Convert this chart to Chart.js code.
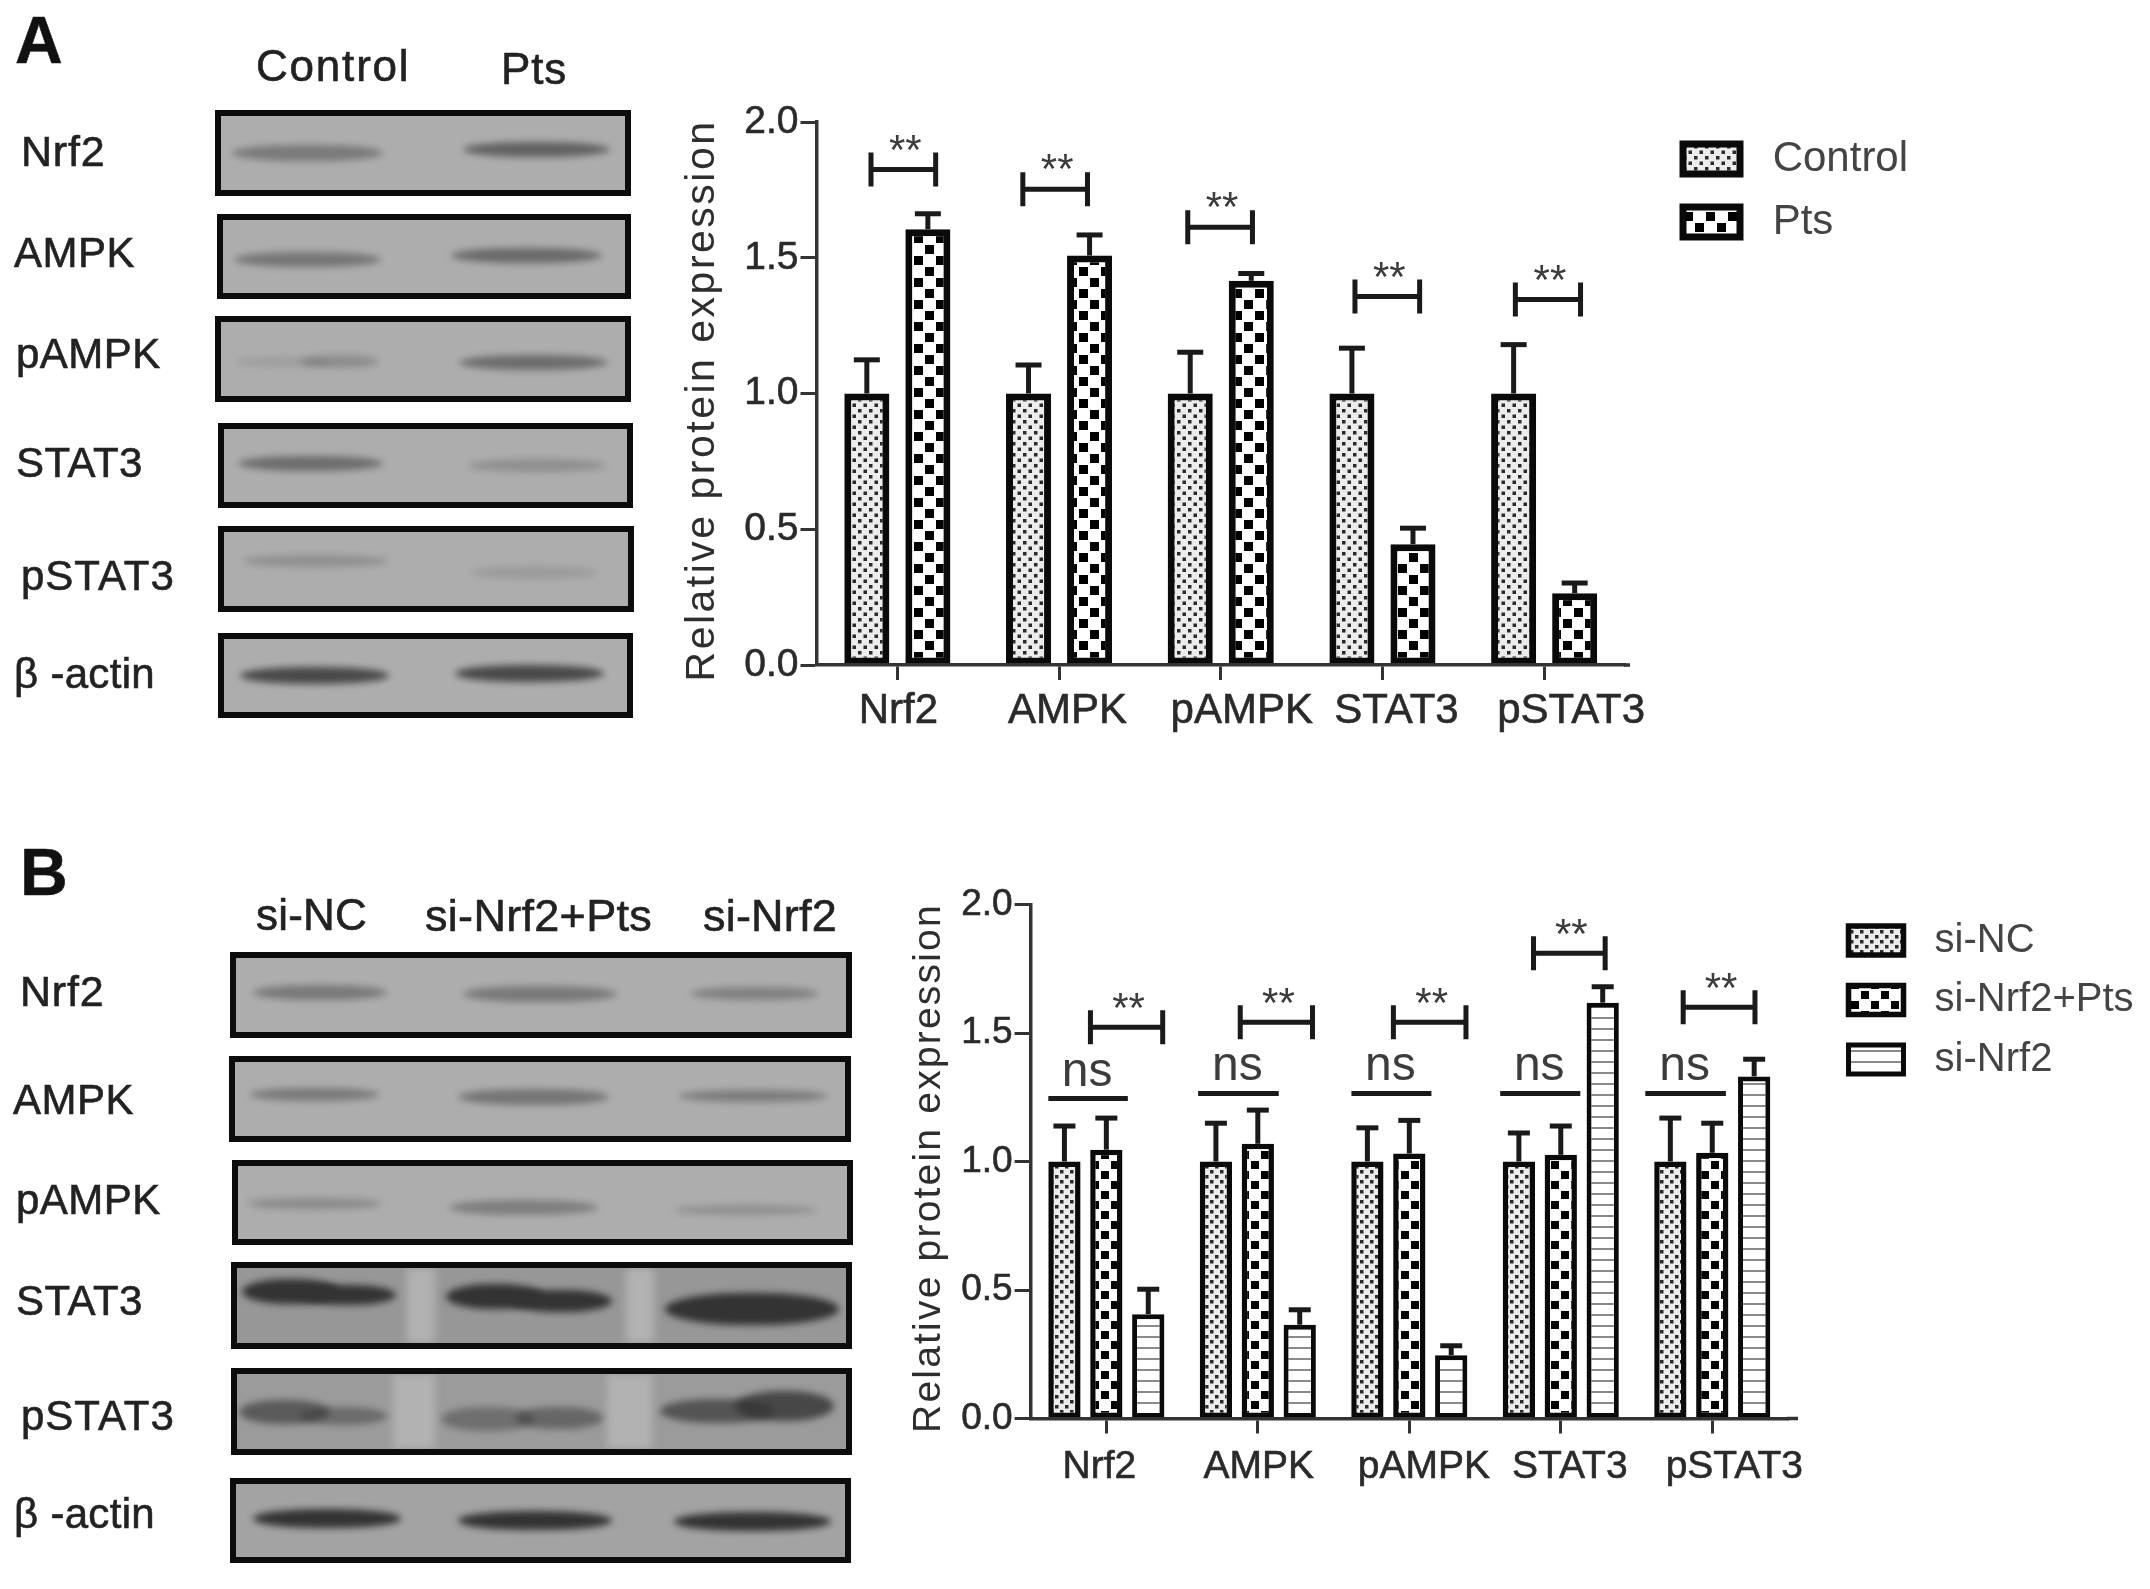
<!DOCTYPE html>
<html>
<head>
<meta charset="utf-8">
<title>Relative protein expression</title>
<script src="https://cdn.jsdelivr.net/npm/chart.js@4/dist/chart.umd.min.js"></script>
<style>
html, body { margin: 0; background: #fff; }
#page { position: relative; width: 2150px; height: 1589px; overflow: hidden; font-family: "Liberation Sans", Arial, sans-serif; }
#page canvas { position: absolute; filter: blur(0.6px); }
.txt { position: absolute; white-space: nowrap; color: #222; line-height: 1; transform: translateY(-50%); filter: blur(0.5px); -webkit-text-stroke: 0.6px #222; letter-spacing: 0.4px; }
.blot { position: absolute; box-sizing: border-box; border: 6px solid #0c0c0c; background: #adadad; overflow: hidden; filter: blur(0.7px); }
.band { position: absolute; border-radius: 45% / 50%; background: #333; filter: blur(3.5px); }
.gap { position: absolute; top: 0; bottom: 0; background: #b2b2b2; filter: blur(4px); }
</style>
</head>
<body>
<div id="page">
  <canvas id="chart-a" width="1490" height="680" style="left:660px;top:90px"></canvas>
  <canvas id="chart-b" width="1260" height="620" style="left:890px;top:880px"></canvas>
</div>
<script>
// Panel A values
var categories = ["Nrf2", "AMPK", "pAMPK", "STAT3", "pSTAT3"];
var controlA = [1, 1, 1, 1, 1];
var controlTopA = [1.124, 1.105, 1.152, 1.167, 1.18];
var ptsA = [1.605, 1.508, 1.415, 0.445, 0.264];
var ptsTopA = [1.662, 1.584, 1.442, 0.504, 0.302];

// Panel B values
var siNC = [1, 1, 1, 1, 1];
var siNCTop = [1.138, 1.149, 1.131, 1.111, 1.169];
var siNrf2Pts = [1.046, 1.069, 1.031, 1.026, 1.034];
var siNrf2PtsTop = [1.169, 1.2, 1.16, 1.138, 1.149];
var siNrf2 = [0.406, 0.365, 0.246, 1.618, 1.331];
var siNrf2Top = [0.503, 0.423, 0.283, 1.68, 1.398];

// Significance brackets: value level, then ends in category widths from the tick
var starLevelA = [1.825, 1.752, 1.612, 1.357, 1.346];
var starFromA = [-0.163, -0.224, -0.204, -0.17, -0.178];
var starToA = [0.237, 0.176, 0.196, 0.23, 0.225];
var starLevelB = [1.522, 1.542, 1.542, 1.81, 1.6];
var starFromB = [-0.105, -0.116, -0.105, -0.18, -0.192];
var starToB = [0.372, 0.361, 0.374, 0.293, 0.282];
var nsLevelB = [1.245, 1.265, 1.265, 1.265, 1.265];
var nsFromB = [-0.383, -0.394, -0.382, -0.4, -0.442];
var nsToB = [0.142, 0.138, 0.146, 0.129, 0.09];

var INK = "#1a1a1a";

function makeTile(size, draw) {
    var c = document.createElement("canvas");
    c.width = size;
    c.height = size;
    draw(c.getContext("2d"));
    return c.getContext("2d").createPattern(c, "repeat");
}

function finePattern(cell) {
    return makeTile(cell * 2, function(t) {
        t.fillStyle = "#ececec";
        t.fillRect(0, 0, cell * 2, cell * 2);
        t.fillStyle = "#2a2a2a";
        t.fillRect(0, 0, 3.5, 3.5);
        t.fillRect(cell, 0, 3.5, 3.5);
        t.fillRect(cell / 2, cell / 2, 3.5, 3.5);
        t.fillRect(cell * 1.5, cell / 2, 3.5, 3.5);
        t.fillRect(0, cell, 3.5, 3.5);
        t.fillRect(cell, cell, 3.5, 3.5);
        t.fillRect(cell / 2, cell * 1.5, 3.5, 3.5);
        t.fillRect(cell * 1.5, cell * 1.5, 3.5, 3.5);
    });
}

function checkPattern(cell) {
    return makeTile(cell * 2, function(t) {
        t.fillStyle = "#fff";
        t.fillRect(0, 0, cell * 2, cell * 2);
        t.fillStyle = "#000";
        t.fillRect(1, 1, cell - 2, cell - 2);
        t.fillRect(cell + 1, cell + 1, cell - 2, cell - 2);
    });
}

var linePattern = makeTile(11, function(t) {
    t.fillStyle = "#fff";
    t.fillRect(0, 0, 11, 11);
    t.fillStyle = "#8a8a8a";
    t.fillRect(0, 5, 11, 2);
});

// Stems and caps above the bars
var errorBars = {
    id: "errorBars",
    afterDatasetsDraw: function(chart) {
        var ctx = chart.ctx;
        var y = chart.scales.y;
        var capHalf = chart.options.plugins.marks.capHalf;
        ctx.save();
        ctx.strokeStyle = INK;
        chart.data.datasets.forEach(function(ds, d) {
            chart.getDatasetMeta(d).data.forEach(function(bar, i) {
                var top = y.getPixelForValue(ds.errTop[i]);
                ctx.lineWidth = 5;
                ctx.beginPath();
                ctx.moveTo(bar.x, y.getPixelForValue(ds.data[i]));
                ctx.lineTo(bar.x, top);
                ctx.stroke();
                ctx.beginPath();
                ctx.moveTo(bar.x - capHalf, top);
                ctx.lineTo(bar.x + capHalf, top);
                ctx.stroke();
            });
        });
        ctx.restore();
    }
};

// ** brackets and ns lines
var sigMarks = {
    id: "marks",
    afterDraw: function(chart, args, opts) {
        var ctx = chart.ctx;
        var x = chart.scales.x;
        var y = chart.scales.y;
        var step = x.getPixelForValue(1) - x.getPixelForValue(0);
        ctx.save();
        // the x axis runs on a little past the last category
        ctx.strokeStyle = "#333";
        ctx.lineWidth = 3.5;
        ctx.beginPath();
        ctx.moveTo(x.right - 1, y.bottom);
        ctx.lineTo(x.right + opts.axisRun, y.bottom);
        ctx.stroke();
        ctx.strokeStyle = INK;
        ctx.fillStyle = "#3c3c3c";
        ctx.textAlign = "center";
        categories.forEach(function(c, i) {
            var mid = x.getPixelForValue(i);
            var x0 = mid + opts.starFrom[i] * step;
            var x1 = mid + opts.starTo[i] * step;
            var yy = y.getPixelForValue(opts.starLevel[i]);
            ctx.lineWidth = 5;
            ctx.beginPath();
            ctx.moveTo(x0, yy - 17);
            ctx.lineTo(x0, yy + 17);
            ctx.moveTo(x0, yy);
            ctx.lineTo(x1, yy);
            ctx.moveTo(x1, yy - 17);
            ctx.lineTo(x1, yy + 17);
            ctx.stroke();
            ctx.font = "42px 'Liberation Sans'";
            ctx.fillText("**", (x0 + x1) / 2 + 2, yy - opts.starLift);
            if (opts.nsLevel) {
                var n0 = mid + opts.nsFrom[i] * step;
                var n1 = mid + opts.nsTo[i] * step;
                var ny = y.getPixelForValue(opts.nsLevel[i]);
                ctx.beginPath();
                ctx.moveTo(n0, ny);
                ctx.lineTo(n1, ny);
                ctx.stroke();
                ctx.font = "48px 'Liberation Sans'";
                ctx.fillText("ns", (n0 + n1) / 2 - 1, ny - 13);
            }
        });
        ctx.restore();
    }
};

// Legend sits off to the right, x labels are nudged off their ticks like the original,
// and only the y title gets the wide letter spacing
var placement = {
    id: "placement",
    afterLayout: function(chart) {
        var p = chart.options.plugins.marks;
        var lg = chart.legend;
        lg.left = p.legendLeft;
        lg.top = p.legendTop;
        lg.right = lg.left + 480;
        lg.bottom = lg.top + 260;
        chart.scales.x.getLabelItems(chart.chartArea).forEach(function(item, i) {
            item.options.translation[0] += p.labelShift[i];
        });
        var yScale = chart.scales.y;
        var drawTitle = yScale.drawTitle;
        yScale.drawTitle = function() {
            chart.ctx.letterSpacing = p.titleSpacing;
            drawTitle.call(yScale);
            chart.ctx.letterSpacing = "0px";
        };
    }
};

function makeChart(id, datasets, o) {
    return new Chart(document.getElementById(id), {
        type: "bar",
        data: { labels: categories, datasets: datasets },
        plugins: [errorBars, sigMarks, placement],
        options: {
            responsive: false,
            animation: false,
            devicePixelRatio: 1,
            layout: { padding: { top: o.top, right: o.right, left: 0, bottom: 0 } },
            datasets: { bar: { categoryPercentage: o.catPct, barPercentage: o.barPct } },
            plugins: {
                tooltip: { enabled: false },
                legend: {
                    position: "chartArea",
                    align: "start",
                    labels: {
                        boxWidth: o.boxW,
                        boxHeight: o.boxH,
                        padding: o.legendGap,
                        color: "#444",
                        font: { family: "Liberation Sans", size: o.legendFont }
                    }
                },
                marks: o.marks
            },
            scales: {
                x: {
                    afterFit: function(s) { s.height = o.xHeight; },
                    grid: { offset: false, drawOnChartArea: false, tickLength: 15, tickWidth: 3, tickColor: "#333" },
                    border: { width: 3.5, color: "#333", z: 1 },
                    ticks: { z: 1, autoSkip: false, maxRotation: 0, padding: o.xPad, color: "#2a2a2a", textStrokeColor: "#2a2a2a", textStrokeWidth: 0.6, font: { family: "Liberation Sans", size: o.xFont } }
                },
                y: {
                    min: 0,
                    max: 2,
                    afterFit: function(s) { s.width = o.yWidth; },
                    grid: { drawOnChartArea: false, tickLength: 16, tickWidth: 3, tickColor: "#333" },
                    border: { width: 3.5, color: "#333", z: 1 },
                    ticks: {
                        z: 1,
                        stepSize: 0.5,
                        padding: 2,
                        color: "#2a2a2a",
                        textStrokeColor: "#2a2a2a",
                        textStrokeWidth: 0.6,
                        font: { family: "Liberation Sans", size: o.yFont },
                        callback: function(v) { return v.toFixed(1); }
                    },
                    title: {
                        display: true,
                        text: "Relative protein expression ",
                        color: "#2e2e2e",
                        padding: { top: o.titleTop, bottom: 0 },
                        font: { family: "Liberation Sans", size: o.titleFont, weight: "normal" }
                    }
                }
            }
        }
    });
}

makeChart("chart-a", [
    { label: " Control", data: controlA, errTop: controlTopA, backgroundColor: finePattern(11), borderColor: "#0a0a0a", borderWidth: 7, borderSkipped: false },
    { label: " Pts", data: ptsA, errTop: ptsTopA, backgroundColor: checkPattern(11), borderColor: "#0a0a0a", borderWidth: 7, borderSkipped: false }
], {
    top: 32, right: 525, xHeight: 105, yWidth: 156.5, xPad: 6, xFont: 42, yFont: 39,
    titleFont: 41, titleTop: 18, catPct: 0.755, barPct: 0.738,
    boxW: 57, boxH: 30, legendGap: 21, legendFont: 42,
    marks: {
        capHalf: 13, legendLeft: 1002, legendTop: 27, titleSpacing: "2.5px", starLift: 6, axisRun: 5,
        labelShift: [1, 8.5, 21, 14, 27],
        starLevel: starLevelA, starFrom: starFromA, starTo: starToA
    }
});

makeChart("chart-b", [
    { label: " si-NC", data: siNC, errTop: siNCTop, backgroundColor: finePattern(10), borderColor: "#0a0a0a", borderWidth: 5.5, borderSkipped: false },
    { label: " si-Nrf2+Pts", data: siNrf2Pts, errTop: siNrf2PtsTop, backgroundColor: checkPattern(10), borderColor: "#0a0a0a", borderWidth: 5.5, borderSkipped: false },
    { label: " si-Nrf2", data: siNrf2, errTop: siNrf2Top, backgroundColor: linePattern, borderColor: "#0a0a0a", borderWidth: 5, borderSkipped: false }
], {
    top: 24.5, right: 362, xHeight: 81.5, yWidth: 140.6, xPad: 10, xFont: 39, yFont: 37,
    titleFont: 39, titleTop: 16, catPct: 0.83, barPct: 0.77,
    boxW: 55, boxH: 29, legendGap: 19.5, legendFont: 40,
    marks: {
        capHalf: 11, legendLeft: 939, legendTop: 21, titleSpacing: "2.2px", starLift: 5, axisRun: 10,
        labelShift: [-7, 1, 14.5, 9, 22],
        starLevel: starLevelB, starFrom: starFromB, starTo: starToB,
        nsLevel: nsLevelB, nsFrom: nsFromB, nsTo: nsToB
    }
});

// Western blot strips, not chart data: box [left, top, right, bottom], bands [left, right, centre, thickness, opacity]
var blots = [
    { box: [215, 110, 631, 196], bands: [[232, 383, 153, 16, 0.42], [463, 610, 149, 15, 0.62]] },
    { box: [217, 214, 631, 299], bands: [[234, 381, 259, 15, 0.45], [451, 602, 255, 15, 0.55]] },
    { box: [215, 316, 631, 402], bands: [[236, 330, 362, 10, 0.12], [300, 379, 361, 13, 0.26], [459, 608, 362, 15, 0.52]] },
    { box: [218, 423, 633, 508], bands: [[238, 383, 463, 15, 0.52], [468, 606, 465, 13, 0.24]] },
    { box: [218, 526, 634, 612], bands: [[242, 389, 561, 12, 0.24], [470, 598, 572, 13, 0.14]] },
    { box: [218, 633, 633, 718], bands: [[240, 389, 675, 17, 0.82], [455, 604, 673, 17, 0.82]] },
    { box: [230, 952, 852, 1038], bands: [[253, 387, 992, 15, 0.42], [463, 617, 994, 16, 0.42], [691, 819, 993, 13, 0.36]] },
    { box: [229, 1056, 851, 1142], bands: [[250, 379, 1094, 13, 0.42], [458, 609, 1097, 16, 0.45], [679, 828, 1096, 12, 0.4]] },
    { box: [232, 1160, 853, 1245], bands: [[247, 382, 1203, 11, 0.28], [449, 598, 1207, 15, 0.38], [674, 817, 1210, 10, 0.24]] },
    { box: [231, 1262, 852, 1349], bg: "#979797", gaps: [[407, 435], [626, 654]], bands: [[242, 340, 1291, 25, 1], [300, 396, 1295, 20, 1], [446, 545, 1296, 25, 1], [510, 612, 1301, 22, 1], [665, 839, 1309, 32, 1]] },
    { box: [231, 1368, 852, 1455], bg: "#9b9b9b", gaps: [[393, 435], [607, 652]], bands: [[239, 330, 1412, 24, 0.62], [300, 387, 1416, 18, 0.45], [441, 535, 1419, 24, 0.42], [515, 603, 1418, 22, 0.5], [660, 775, 1411, 24, 0.68], [735, 834, 1406, 30, 0.8]] },
    { box: [230, 1478, 851, 1563], bg: "#a3a3a3", bands: [[253, 401, 1518, 19, 1], [458, 612, 1520, 19, 1], [674, 831, 1521, 19, 1]] }
];

// Text around the strips: [text, left, centre y, size, letter spacing]
var blotText = [
    ["Control", 256, 66, 44, 1.8], ["Pts", 501, 69, 44, 0.8],
    ["Nrf2", 21, 151, 43, 0.8], ["AMPK", 14, 253, 42, 0.5], ["pAMPK", 16, 354, 42, 0.5],
    ["STAT3", 16, 463, 42, 0.5], ["pSTAT3", 21, 576, 42, 1], ["\u03b2 -actin", 14, 674, 42, 0.3],
    ["si-NC", 256, 915, 44, 0.2], ["si-Nrf2+Pts", 425, 915, 45, 0.3], ["si-Nrf2", 703, 915, 45, 0.2],
    ["Nrf2", 20, 991, 43, 0.8], ["AMPK", 13, 1100, 42, 0.5], ["pAMPK", 16, 1200, 42, 0.5],
    ["STAT3", 16, 1301, 42, 0.5], ["pSTAT3", 21, 1416, 42, 1], ["\u03b2 -actin", 14, 1514, 42, 0.3]
];

var page = document.getElementById("page");

blots.forEach(function(b) {
    var el = document.createElement("div");
    el.className = "blot";
    el.style.cssText = "left:" + b.box[0] + "px;top:" + b.box[1] + "px;width:" + (b.box[2] - b.box[0]) + "px;height:" + (b.box[3] - b.box[1]) + "px;" + (b.bg ? "background:" + b.bg : "");
    (b.gaps || []).forEach(function(g) {
        var gap = document.createElement("div");
        gap.className = "gap";
        gap.style.left = (g[0] - b.box[0] - 6) + "px";
        gap.style.width = (g[1] - g[0]) + "px";
        el.appendChild(gap);
    });
    b.bands.forEach(function(s) {
        var band = document.createElement("div");
        band.className = "band";
        band.style.left = (s[0] - b.box[0] - 6) + "px";
        band.style.width = (s[1] - s[0]) + "px";
        band.style.top = (s[2] - s[3] / 2 - b.box[1] - 6) + "px";
        band.style.height = s[3] + "px";
        band.style.opacity = s[4];
        el.appendChild(band);
    });
    page.appendChild(el);
});

blotText.forEach(function(t) {
    var el = document.createElement("div");
    el.className = "txt";
    el.textContent = t[0];
    el.style.left = t[1] + "px";
    el.style.top = t[2] + "px";
    el.style.fontSize = t[3] + "px";
    el.style.letterSpacing = t[4] + "px";
    page.appendChild(el);
});

// Panel letters
[["A", 15, 40], ["B", 20, 872]].forEach(function(l) {
    var el = document.createElement("div");
    el.className = "txt";
    el.textContent = l[0];
    el.style.cssText = "left:" + l[1] + "px;top:" + l[2] + "px;font-size:66px;font-weight:bold;color:#111";
    page.appendChild(el);
});
</script>
</body>
</html>
